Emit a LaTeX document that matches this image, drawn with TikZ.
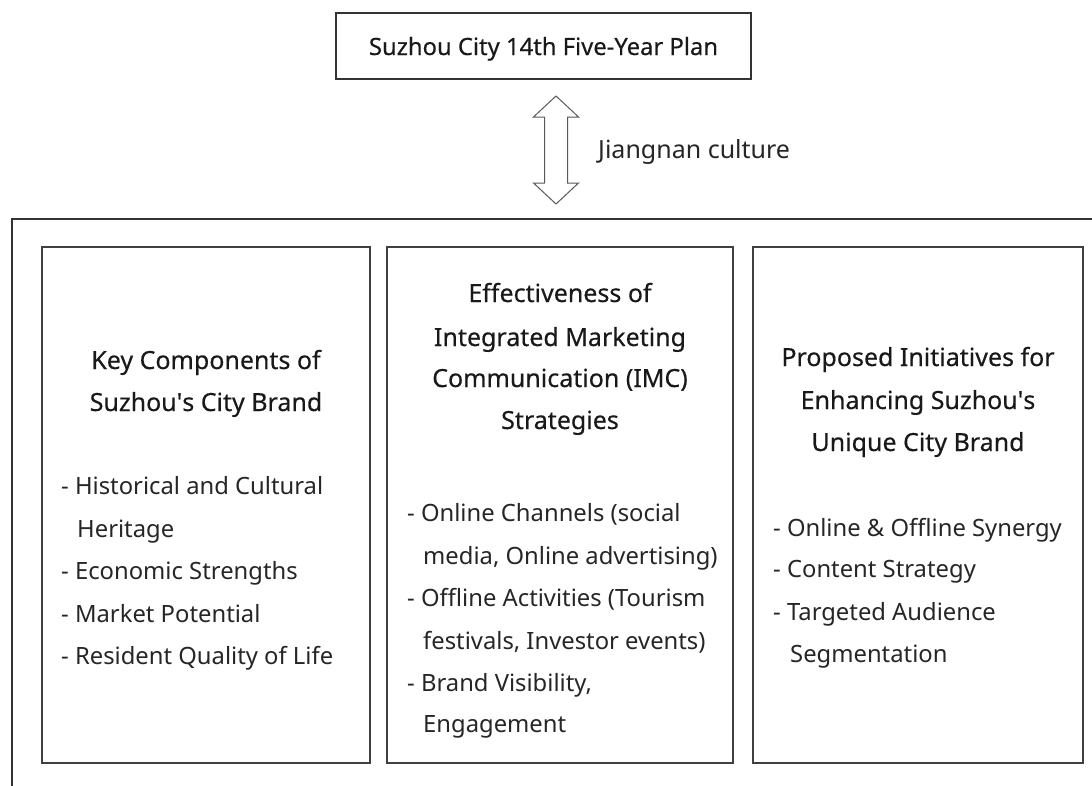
\documentclass[tikz,border=0pt]{standalone}
\usepackage{fontspec}
\setmainfont{Noto Sans}
\newfontfamily\headfont[FakeBold=0.3]{Noto Sans}
\newcommand{\apos}{\textquotesingle}
\begin{document}
\begin{tikzpicture}[x=1pt,y=-1pt,
  frame/.style={draw=black!80, line width=1.6pt},
  panel/.style={draw=black!75, line width=1.3pt, minimum height=516pt},
  head/.style={inner sep=0pt, anchor=base, font=\headfont\fontsize{25}{28}\selectfont, text=black!90},
  item/.style={inner sep=0pt, anchor=base west, font=\fontsize{23.8}{28}\selectfont, text=black!85},
  twoway/.style={draw=black!65, line width=1pt, fill=white, line join=miter}
]
\useasboundingbox (0,0) rectangle (1092,785);
\clip (0,0) rectangle (1092,785);
\fill[white] (0,0) rectangle (1092,785);

% plan box at the top
\node[frame, minimum width=415pt, minimum height=66pt, inner sep=0pt] (plan) at (543.5,46) {};
\node[head, font=\headfont\fontsize{23.8}{28}\selectfont] (plantext) at (543.5,55) {Suzhou City 14th Five-Year Plan};

% frame that holds the three panels (runs off the right and bottom)
\draw[frame] (1100,219) -- (12,219) -- (12,800);

% two-way arrow between the plan and the frame
\coordinate (arr) at (556,150);
\draw[twoway, shift={(arr)}] (0,-54) -- (22.5,-33) -- (11.5,-33) -- (11.5,33) -- (22.5,33)
  -- (0,54) -- (-22.5,33) -- (-11.5,33) -- (-11.5,-33) -- (-22.5,-33) -- cycle;
\node[item, font=\fontsize{25}{28}\selectfont] (culture) at (598,158) {Jiangnan culture};

% three panels
\node[panel, minimum width=328pt] (left) at (206,505) {};
\node[panel, minimum width=346pt] (mid) at (560,505) {};
\node[panel, minimum width=330pt] (right) at (918,505) {};

% left panel
\node[head] (l1) at (206,369) {Key Components of};
\node[head] (l2) at (206,411) {Suzhou\apos s City Brand};
\node[item] (lb1) at (61,494) {- Historical and Cultural};
\node[item] (lb2) at (77,537) {Heritage};
\node[item] (lb3) at (61,579) {- Economic Strengths};
\node[item] (lb4) at (61,622) {- Market Potential};
\node[item] (lb5) at (61,664) {- Resident Quality of Life};

% middle panel
\node[head] (m1) at (560,302) {Effectiveness of};
\node[head] (m2) at (560,346) {Integrated Marketing};
\node[head] (m3) at (560,387) {Communication (IMC)};
\node[head] (m4) at (560,429) {Strategies};
\node[item] (mb1) at (407,521) {- Online Channels (social};
\node[item] (mb2) at (423,564) {media, Online advertising)};
\node[item] (mb3) at (407,606) {- Offline Activities (Tourism};
\node[item] (mb4) at (423,649) {festivals, Investor events)};
\node[item] (mb5) at (407,691) {- Brand Visibility,};
\node[item] (mb6) at (423,732) {Engagement};

% right panel
\node[head] (r1) at (918,366) {Proposed Initiatives for};
\node[head] (r2) at (918,409) {Enhancing Suzhou\apos s};
\node[head] (r3) at (918,451) {Unique City Brand};
\node[item] (rb1) at (773,536) {- Online \& Offline Synergy};
\node[item] (rb2) at (773,577) {- Content Strategy};
\node[item] (rb3) at (773,620) {- Targeted Audience};
\node[item] (rb4) at (790,662) {Segmentation};
\end{tikzpicture}
\end{document}
